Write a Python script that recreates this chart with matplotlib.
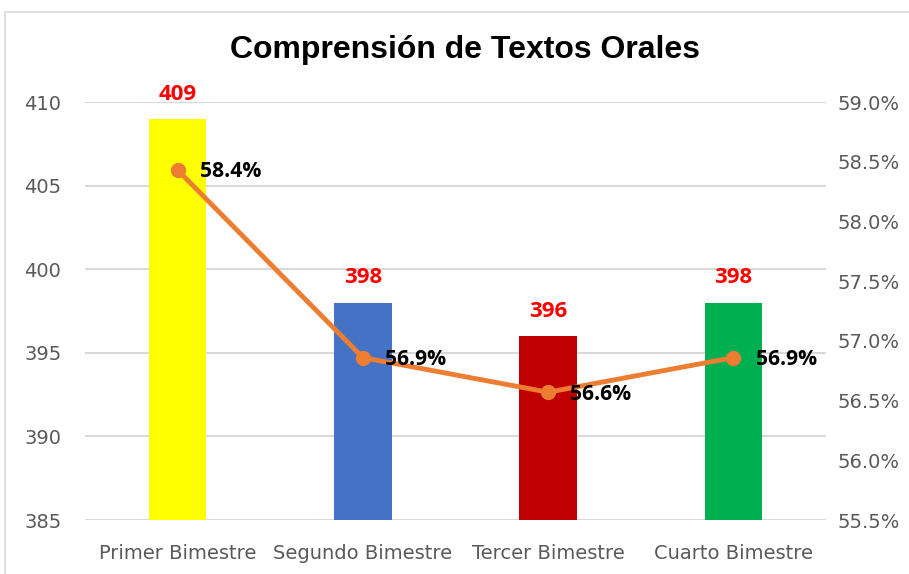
import matplotlib
matplotlib.use("Agg")
import matplotlib.pyplot as plt
from matplotlib.patches import Rectangle

categories = ["Primer Bimestre", "Segundo Bimestre", "Tercer Bimestre", "Cuarto Bimestre"]
scores = [409, 398, 396, 398]
percents = [58.43, 56.86, 56.57, 56.86]
percent_labels = ["58.4%", "56.9%", "56.6%", "56.9%"]
bar_colors = ["#FFFF00", "#4472C4", "#C00000", "#00B050"]
left_ticks = [385, 390, 395, 400, 405, 410]
right_ticks = [55.5, 56.0, 56.5, 57.0, 57.5, 58.0, 58.5, 59.0]

plt.rcParams['font.family'] = ["DejaVu Sans"]

fig = plt.figure(figsize=(9.09, 5.74), dpi=100)
fig.patches.append(Rectangle((5/909, -0.1), 2, (574-12)/574 + 0.1, transform=fig.transFigure,
                             fill=False, edgecolor="#D9D9D9", linewidth=1.2))

ax = fig.add_axes([85/909, 54/574, 741/909, 418/574])
x = list(range(len(categories)))
ax.bar(x, [s - 385 for s in scores], bottom=385, width=0.31, color=bar_colors, zorder=2)
ax.set_ylim(385, 410)
ax.set_xlim(-0.5, 3.5)
ax.set_yticks(left_ticks)
ax.set_yticklabels([str(t) for t in left_ticks], fontsize=14, color="#595959")
ax.set_xticks(x)
ax.set_xticklabels(categories, fontsize=14, color="#595959")
ax.tick_params(axis='x', length=0, pad=17)
ax.tick_params(axis='y', length=0, pad=17)
for s in ax.spines.values():
    s.set_visible(False)
ax.grid(axis='y', color="#D9D9D9", linewidth=1.5, zorder=0)
ax.set_axisbelow(True)

for xi, s in zip(x, scores):
    ax.text(xi, s + 0.85, str(s), ha='center', va='bottom', color="#FF0000",
            fontsize=16, fontweight='bold', family=["Open Sans", "DejaVu Sans"])

ax2 = ax.twinx()
ax2.set_ylim(55.5, 59.0)
ax2.set_yticks(right_ticks)
ax2.set_yticklabels([f"{t:.1f}%" for t in right_ticks], fontsize=14, color="#595959")
ax2.tick_params(length=0, pad=8)
for s in ax2.spines.values():
    s.set_visible(False)
ax2.plot(x, percents, color="#ED7D31", linewidth=3.5, marker='o', markersize=10, zorder=3)
for xi, p, lab in zip(x, percents, percent_labels):
    ax2.text(xi + 0.12, p - 0.015, lab, ha='left', va='center', color="black",
             fontsize=15.2, fontweight='bold', family=["Open Sans", "DejaVu Sans"])

fig.text(465/909, 1 - 50/574, "Comprensión de Textos Orales", ha='center', va='center',
         fontsize=23, fontweight='bold', family=["Liberation Sans", "DejaVu Sans"])

fig.savefig("out.png", dpi=100)
